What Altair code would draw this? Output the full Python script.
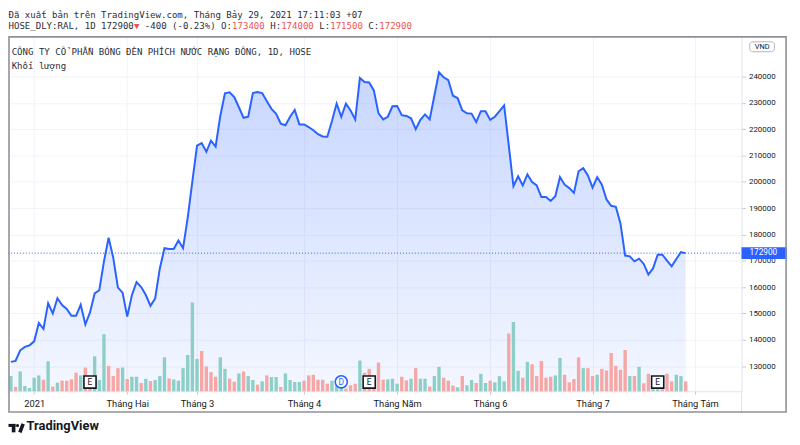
import altair as alt
import pandas as pd

# ---------------- data ----------------
price = [131600, 132000, 136000, 137300, 137900, 139400, 146400, 144100, 153900, 150000,
         155800, 153200, 151700, 149100, 149100, 153300, 145800, 150400, 157600, 158800,
         169800, 178800, 171100, 159800, 157900, 148800, 156900, 161900, 160000, 157000,
         152900, 155700, 167000, 174800, 174500, 174500, 177700, 174800, 186400, 200200,
         213700, 214700, 211400, 215600, 213400, 225000, 233600, 234000, 232200, 228300,
         224300, 224700, 233700, 234100, 233700, 230600, 227700, 225800, 222100, 221500,
         224700, 227300, 221800, 221800, 220800, 219600, 218100, 217200, 217100, 223100,
         229700, 224700, 229700, 227100, 223700, 239400, 237900, 237700, 234700, 226000,
         223700, 224700, 228700, 228800, 225300, 225000, 224100, 220000, 223500, 225600,
         223700, 232700, 241600, 239700, 238600, 232700, 231800, 227100, 226000, 225900,
         222700, 226800, 226800, 223500, 224700, 226800, 229000, 213700, 198300, 202100,
         198600, 202800, 199900, 198600, 194200, 194200, 192700, 194500, 201800, 198900,
         197600, 195800, 204000, 205200, 202400, 197800, 201800, 198900, 193300, 190900,
         190500, 184200, 172000, 171700, 169800, 170800, 168800, 164800, 167100, 172300,
         172300, 170100, 167900, 170700, 173300, 172900]

volume = [4600, 1300, 6000, 1600, 1000, 4100, 4800, 3500, 9100, 1400,
          2600, 3200, 3200, 3600, 5600, 4800, 7200, 3800, 10600, 3400,
          17300, 7700, 4600, 7000, 7200, 3700, 4400, 4400, 2500, 3800,
          3100, 3400, 4600, 10300, 3900, 3600, 3200, 7000, 11000, 26900,
          9800, 12200, 7500, 5800, 4400, 10300, 6800, 3800, 2900, 5400,
          6000, 4600, 3400, 2000, 3000, 4800, 4300, 4300, 1300, 5400,
          3400, 2800, 2800, 3200, 4800, 5000, 3500, 3500, 2300, 3200,
          2300, 1300, 800, 1800, 2300, 9300, 5600, 6800, 4800, 8700,
          3500, 3600, 3800, 2300, 4400, 3300, 3800, 7000, 3800, 3800,
          1400, 4600, 7400, 4100, 3200, 1700, 1200, 4600, 1800, 3400,
          2500, 5300, 2500, 3200, 2700, 4600, 3000, 17500, 21000, 6200,
          4100, 8900, 8200, 4600, 9200, 4100, 4400, 4800, 10100, 5000,
          2700, 3700, 10300, 7000, 7000, 4600, 5000, 6800, 6300, 11600,
          7700, 6500, 12500, 4600, 4600, 7400, 2400, 5300, 600, 600,
          600, 5300, 3000, 5000, 4600, 3000]

direction_codes = ("grgggggrgr" "grrrrgrrgg" "grrrgrggrg" "rgggrggggg" "grrrrggrrg"
                   "rggrgrggrg" "gggrrrrrrg" "ggrrrgrrrr" "rgggrrgrgg" "rggrrrgrgg"
                   "rggrgggrgg" "rgrrrrrggr" "rrrgrrgrrr" "rrrgrgrrgg" "rrrggr")
direction = ["up" if c == "g" else "down" for c in direction_codes]

tick_idx = [5, 25, 40, 63, 83, 103, 125, 147]
tick_lab = ["2021", "Tháng Hai", "Tháng 3", "Tháng 4", "Tháng Năm", "Tháng 6", "Tháng 7", "Tháng Tám"]
price_ticks = list(range(130000, 240001, 10000))

event_idx = [17, 71, 77, 139]
event_lab = ["E", "D", "E", "E"]

last_price = price[-1]

# ---------------- tables ----------------
df = pd.DataFrame({"idx": list(range(len(price))), "price": price,
                   "vol": volume, "dir": direction})
ev = pd.DataFrame({"idx": event_idx, "lab": event_lab})
one = pd.DataFrame({"a": [0]})

DARK = "#2a2e39"
RED = "#ef5350"
BLUE = "#2962ff"
MONO = "DejaVu Sans Mono"

W, H = 741, 358
YMIN, YMAX = 120451, 255038
xscale = alt.Scale(domain=[0.441, 155.95], nice=False, zero=False)
yscale = alt.Scale(domain=[YMIN, YMAX], nice=False, zero=False)

label_expr = " : ".join(f"datum.value == {i} ? '{l}'" for i, l in zip(tick_idx, tick_lab)) + " : ''"
xaxis = alt.Axis(values=tick_idx, labelExpr=label_expr, grid=True, gridColor="#f0f3fa",
                 domainColor="#e0e3eb", tickColor="#c5c8d0", tickSize=3, labelPadding=5,
                 labelFont="Roboto", labelFontSize=9.4, labelColor="#131722",
                 labelFlush=False, labelOverlap=False, title=None)
yaxis = alt.Axis(orient="right", values=price_ticks, format="d", grid=True, gridColor="#f0f3fa",
                 domainColor="#e0e3eb", tickColor="#c5c8d0", tickSize=4, labelPadding=3,
                 labelFont="Roboto", labelFontSize=8, labelColor="#131722", title=None)

xenc = alt.X("idx:Q", scale=xscale, axis=xaxis)
base = alt.Chart(df)

gradient = alt.LinearGradient(
    gradient="linear",
    stops=[alt.GradientStop(color="rgba(41,98,255,0.26)", offset=0),
           alt.GradientStop(color="rgba(41,98,255,0.05)", offset=1)],
    x1=0, x2=0, y1=0, y2=1)

area = base.mark_area(color=gradient).encode(
    x=xenc, y=alt.Y("price:Q", scale=yscale, axis=yaxis), y2=alt.Y2(datum=YMIN))

bars = base.mark_bar(size=3.4).encode(
    x=xenc,
    y=alt.Y("vol:Q", scale=alt.Scale(domain=[0, 107400], nice=False, zero=True), axis=None),
    color=alt.Color("dir:N", scale=alt.Scale(domain=["up", "down"], range=["#8ccfc7", "#f6a6a4"]),
                    legend=None))

line = base.mark_line(color=BLUE, strokeWidth=2, clip=False).encode(
    x=xenc, y=alt.Y("price:Q", scale=yscale, axis=None))

rule = alt.Chart(one).mark_rule(color=BLUE, strokeDash=[1, 2], strokeWidth=1).encode(
    y=alt.Y(datum=last_price, scale=yscale, axis=None), x=alt.value(0), x2=alt.value(W))

price_box = alt.Chart(one).mark_rect(color=BLUE).encode(
    y=alt.Y(datum=last_price + 2250, scale=yscale, axis=None),
    y2=alt.Y2(datum=last_price - 2250), x=alt.value(W), x2=alt.value(787))

price_txt = alt.Chart(one).mark_text(text=str(last_price), align="left", baseline="middle",
                                     color="white", font="Roboto", fontSize=8.3).encode(
    y=alt.Y(datum=last_price, scale=yscale, axis=None), x=alt.value(749))

ev_sq = alt.Chart(ev).transform_filter("datum.lab == 'E'").mark_point(
    shape="square", size=150, filled=True, fill="white", stroke="#131722",
    strokeWidth=1.6, opacity=1).encode(x=xenc, y=alt.value(348.7))
ev_circ = alt.Chart(ev).transform_filter("datum.lab == 'D'").mark_point(
    shape="circle", size=150, filled=True, fill="white", stroke=BLUE,
    strokeWidth=1.6, opacity=1).encode(x=xenc, y=alt.value(348.5))
ev_txt = alt.Chart(ev).mark_text(font="Roboto", fontSize=8.5, baseline="middle").encode(
    x=xenc, y=alt.value(349), text="lab:N",
    color=alt.condition("datum.lab == 'D'", alt.value(BLUE), alt.value("#131722")))


def txt(t, x, y, color=DARK, font=MONO, size=9.15, weight="normal", align="left",
        baseline="alphabetic"):
    return alt.Chart(one).mark_text(text=t, font=font, fontSize=size, color=color,
                                    fontWeight=weight, align=align, baseline=baseline).encode(
        x=alt.value(x), y=alt.value(y))


ADV = 0.602 * 9.15
X0 = 0.5
decor = []
decor.append(txt("Đã xuất bản trên TradingView.com, Tháng Bảy 29, 2021 17:11:03 +07", X0, -19.3))
segments = [(0, "HOSE_DLY:RAL, 1D 172900", DARK), (23, "▼", RED), (25, "-400 (-0.23%) O:", DARK),
            (41, "173400", RED), (48, "H:", DARK), (50, "174000", RED), (57, "L:", DARK),
            (59, "171500", RED), (66, "C:", DARK), (68, "172900", RED)]
for i, s, c in segments:
    decor.append(txt(s, X0 + i * ADV, -7.7, color=c))
decor.append(txt("CÔNG TY CỔ PHẦN BÓNG ĐÈN PHÍCH NƯỚC RẠNG ĐÔNG, 1D, HOSE", 3.7, 18.5))
decor.append(txt("Khối lượng", 3.7, 32))

# VND badge
decor.append(alt.Chart(one).mark_rect(fill="white", stroke="#b2b5be", strokeWidth=1,
                                      cornerRadius=3).encode(
    x=alt.value(749.3), x2=alt.value(774.3), y=alt.value(5), y2=alt.value(15)))
decor.append(txt("VND", 761.8, 10, color="#131722", font="Roboto", size=7.5, align="center",
                 baseline="middle"))

# separators and frame
decor.append(alt.Chart(one).mark_rule(color="#e0e3eb").encode(
    x=alt.value(W), y=alt.value(H), y2=alt.value(379)))
decor.append(alt.Chart(one).mark_rect(fillOpacity=0, stroke="#8f9198", strokeWidth=1.6).encode(
    x=alt.value(1), x2=alt.value(786), y=alt.value(0), y2=alt.value(379)))

# TradingView logo (icon drawn from simple shapes + wordmark)
LOGO = "#131722"
decor.append(alt.Chart(one).mark_rect(color=LOGO).encode(
    x=alt.value(0.5), x2=alt.value(7.5), y=alt.value(391), y2=alt.value(394)))
decor.append(alt.Chart(one).mark_rect(color=LOGO).encode(
    x=alt.value(3.8), x2=alt.value(7.5), y=alt.value(391), y2=alt.value(399.5)))
decor.append(alt.Chart(one).mark_point(shape="circle", size=10, filled=True, color=LOGO,
                                       opacity=1).encode(x=alt.value(9.6), y=alt.value(392.6)))
decor.append(alt.Chart(one).mark_rule(color=LOGO, strokeWidth=3.6, strokeCap="butt").encode(
    x=alt.value(15.3), y=alt.value(391), x2=alt.value(12.0), y2=alt.value(399.5)))
decor.append(txt("TradingView", 18.7, 397, color=LOGO, font="Roboto", size=13, weight="bold"))

chart = alt.layer(area, bars, line, rule, price_box, price_txt, ev_sq, ev_circ, ev_txt,
                  *decor).resolve_scale(y="independent").properties(
    width=W, height=H,
    padding={"left": 0, "top": 27, "right": 51, "bottom": 40},
    autosize=alt.AutoSizeParams(type="none"),
).configure_view(strokeWidth=0)

chart.save("out.html", embed_options={"renderer": "svg", "actions": False})
